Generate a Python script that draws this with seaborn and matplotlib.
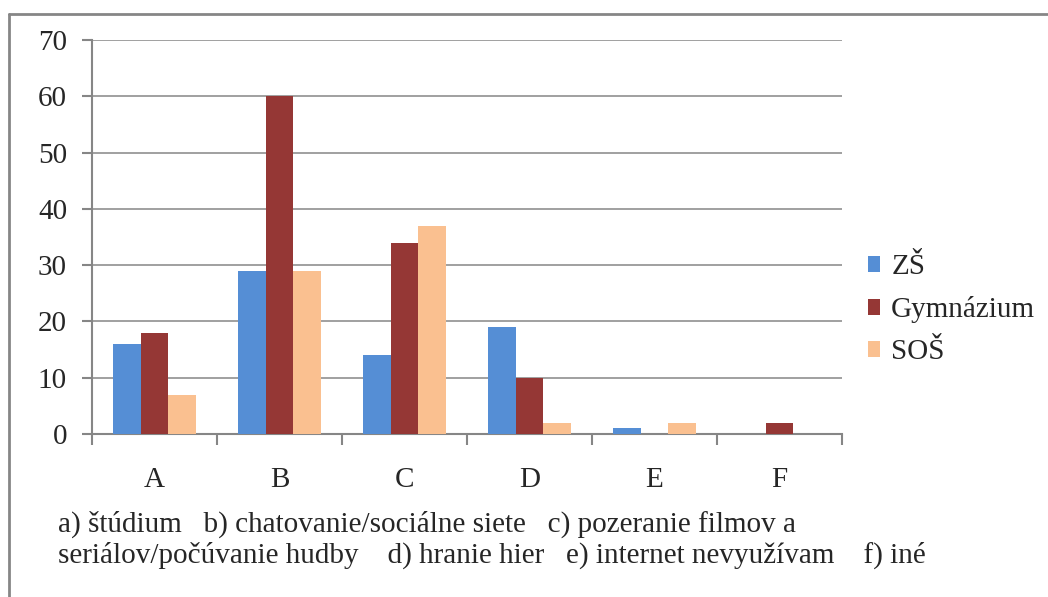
import matplotlib.pyplot as plt
from matplotlib.lines import Line2D
import pandas as pd
import seaborn as sns

categories = ['A', 'B', 'C', 'D', 'E', 'F']
zs = [16, 29, 14, 19, 1, 0]
gymnazium = [18, 60, 34, 10, 0, 2]
sos = [7, 29, 37, 2, 2, 0]
series_names = ['ZŠ', 'Gymnázium', 'SOŠ']
colors = ['#558ED5', '#953735', '#FAC090']
caption = ('a) štúdium   b) chatovanie/sociálne siete   c) pozeranie filmov a\n'
           'seriálov/počúvanie hudby    d) hranie hier   e) internet nevyužívam    f) iné')

df = pd.DataFrame({'kategoria': categories * 3,
                   'skupina': [series_names[0]] * 6 + [series_names[1]] * 6 + [series_names[2]] * 6,
                   'pocet': zs + gymnazium + sos})

sns.set_style('white')
plt.rcParams['font.family'] = ['Liberation Serif', 'DejaVu Serif']
grey = '#868686'

fig = plt.figure(figsize=(10.48, 5.97), dpi=100)
ax = fig.add_axes([0.0878, 0.273, 0.7156, 0.660])
sns.barplot(data=df, x='kategoria', y='pocet', hue='skupina', palette=colors,
            width=0.67, saturation=1, linewidth=0, ax=ax, zorder=3)

ax.set_ylim(0, 70)
ax.set_yticks(range(0, 71, 10))
ax.set_xlim(-0.5, 5.5)
ax.grid(axis='y', color=grey, linewidth=1.1, zorder=0)
ax.set_axisbelow(True)
for s in ['top', 'right']:
    ax.spines[s].set_visible(False)
for s in ['left', 'bottom']:
    ax.spines[s].set_color(grey)
    ax.spines[s].set_linewidth(1.5)
ax.set_xticks([x - 0.5 for x in range(7)], minor=True)
ax.tick_params(axis='x', which='major', bottom=True, length=0, labelsize=21, pad=24)
ax.tick_params(axis='x', which='minor', bottom=True, length=8, width=1.5, color=grey, direction='out')
ax.tick_params(axis='y', left=True, length=7, width=1.5, color=grey, direction='out', labelsize=21, pad=11)
ax.set_xlabel('')
ax.set_ylabel('')

ax.legend(frameon=False, loc='center left', bbox_to_anchor=(1.019, 0.315), borderaxespad=0,
          fontsize=21, handlelength=0.42, handleheight=0.42, handletextpad=0.38, labelspacing=0.55)

fig.text(0.055, 0.0955, caption, fontsize=21, va='center', ha='left', linespacing=1.17)

fig.add_artist(Line2D([0.0086, 1.0], [1 - 14 / 597, 1 - 14 / 597], color=grey, linewidth=2))
fig.add_artist(Line2D([0.0086, 0.0086], [0, 1 - 14 / 597], color=grey, linewidth=2))

fig.savefig('out.png', dpi=100)
